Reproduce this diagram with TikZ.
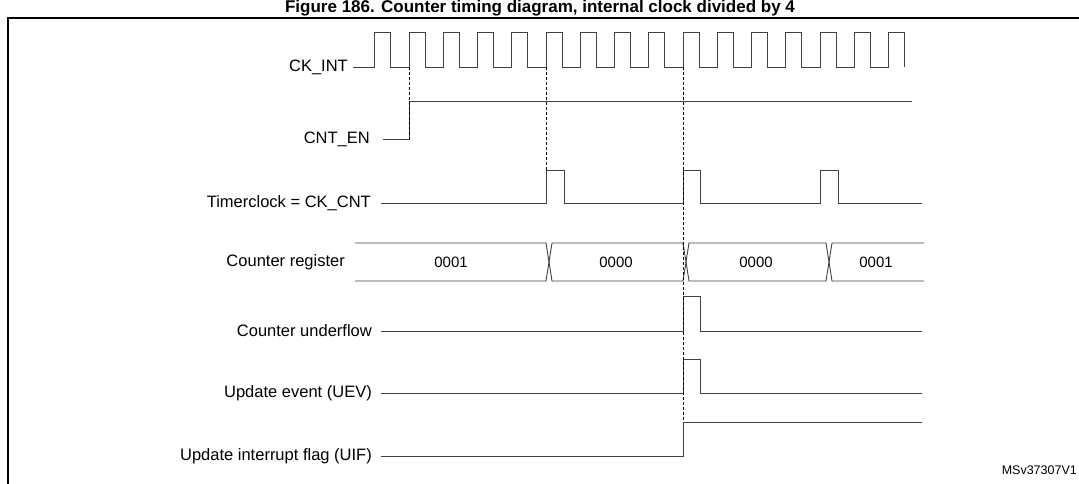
\documentclass[tikz,border=0pt]{standalone}
\usepackage{fontspec}
\setmainfont{Liberation Sans}
\begin{document}
\begin{tikzpicture}[x=1pt,y=-1pt,
  sig/.style={line width=0.9pt,draw=black!75},
  dashln/.style={densely dashed,line width=0.7pt},
  lbl/.style={anchor=east,font=\fontsize{16.5}{19}\selectfont,inner sep=0pt},
  val/.style={font=\fontsize{15}{17}\selectfont,inner sep=0pt}]
\useasboundingbox (0,0) rectangle (1079,484);
\node[font=\bfseries\fontsize{17}{20}\selectfont,anchor=center] (title) at (540,8) {Figure 186. Counter timing diagram, internal clock divided by 4};
\draw[line width=1.2pt] (8,490) -- (8,18) -- (1085,18);
% labels
\node[lbl] (l1) at (348,67) {CK\_INT};
\node[lbl] (l2) at (370,139) {CNT\_EN};
\node[lbl] (l3) at (371,203) {Timerclock = CK\_CNT};
\node[lbl] (l4) at (345,262) {Counter register};
\node[lbl] (l5) at (372,331) {Counter underflow};
\node[lbl] (l6) at (372,393) {Update event (UEV)};
\node[lbl] (l7) at (372,456) {Update interrupt flag (UIF)};
\node[font=\fontsize{12.5}{14}\selectfont,anchor=east,inner sep=0pt] (ms) at (1077,470) {MSv37307V1};
% CK_INT
\draw[sig] (353,67) \foreach \k in {-1,...,14} { -- ({409+34.25*\k},67) -- ({409+34.25*\k},32) -- ({425+34.25*\k},32) -- ({425+34.25*\k},67) };
% CNT_EN
\draw[sig] (383,139) -- (409,139) -- (409,101) -- (912,101);
% Timerclock
\draw[sig] (381,203) -- (546,203) -- (546,170) -- (564,170) -- (564,203) -- (683,203) -- (683,170) -- (700,170) -- (700,203) -- (820,203) -- (820,170) -- (838,170) -- (838,203) -- (922,203);
% Counter register bus
\draw[sig] (355,243) -- (546,243) -- (552,281) -- (683,281) -- (689,243) -- (826,243) -- (832,281) -- (924,281);
\draw[sig] (355,281) -- (546,281) -- (552,243) -- (683,243) -- (689,281) -- (826,281) -- (832,243) -- (924,243);
\node[val] (v1) at (451,262) {0001};
\node[val] (v2) at (616,262) {0000};
\node[val] (v3) at (756,262) {0000};
\node[val] (v4) at (876,262) {0001};
% underflow
\draw[sig] (381,331) -- (683,331) -- (683,296) -- (700,296) -- (700,331) -- (922,331);
% UEV
\draw[sig] (381,393) -- (683,393) -- (683,359) -- (700,359) -- (700,393) -- (922,393);
% UIF
\draw[sig] (381,456) -- (683,456) -- (683,422) -- (922,422);
% dashed
\draw[dashln] (409,67) -- (409,139);
\draw[dashln] (546,67) -- (546,170);
\draw[dashln] (683,67) -- (683,422);
\end{tikzpicture}
\end{document}
